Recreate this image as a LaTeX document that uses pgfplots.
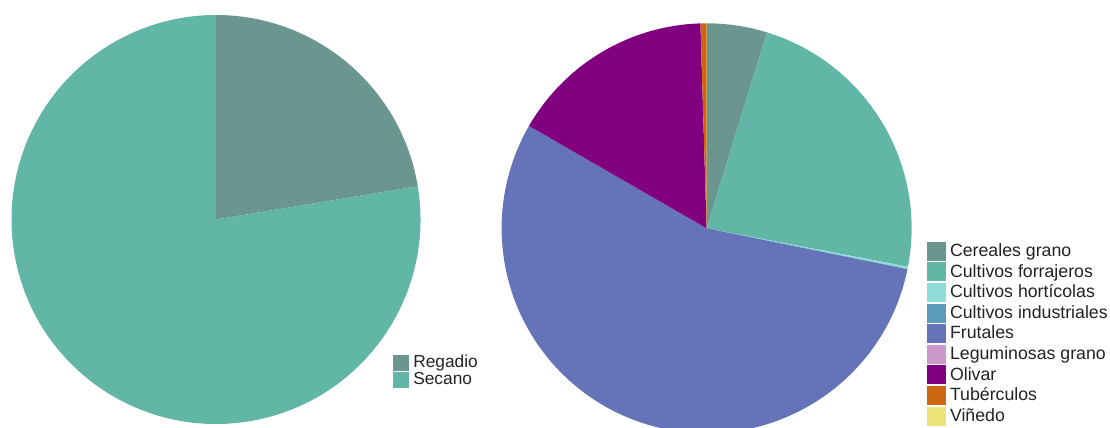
\documentclass[border=0pt]{standalone}
\usepackage{pgfplots}
\pgfplotsset{compat=1.18}
\usepackage{fontspec}
\setmainfont{Liberation Sans}

\definecolor{cereal}{HTML}{6A968F}
\definecolor{forraj}{HTML}{62B6A6}
\definecolor{hortic}{HTML}{8EDCD5}
\definecolor{indust}{HTML}{5B9AB8}
\definecolor{frutal}{HTML}{6574B8}
\definecolor{legum}{HTML}{CC99CC}
\definecolor{olivar}{HTML}{800080}
\definecolor{tuber}{HTML}{CC6611}
\definecolor{vined}{HTML}{EEE27A}
\definecolor{txt}{HTML}{222222}

% one pie slice: value (%), colour, centre x, centre y, radius (all in px)
\newcommand\slcum{0}
\newcommand\slice[5]{%
  \pgfmathsetmacro\slA{90-3.6*\slcum}%
  \pgfmathsetmacro\slB{90-3.6*(\slcum+#1)}%
  \pgfmathsetmacro\slX{#3+#5*cos(\slA)}%
  \pgfmathsetmacro\slY{#4+#5*sin(\slA)}%
  \pgfmathsetmacro\slR{0.75*#5}%
  \edef\sltmp{\noexpand\fill[#2] (axis cs:#3,#4) -- (axis cs:\slX,\slY)
    arc[start angle=\slA, end angle=\slB, radius=\slR pt] -- cycle;}%
  \sltmp
  \pgfmathsetmacro\slnew{\slcum+#1}\xdef\slcum{\slnew}}

\pgfplotsset{
  piebox/.style={
    x=0.75pt, y=0.75pt, xmin=0, xmax=1110, ymin=0, ymax=428,
    hide axis, clip=true, disabledatascaling,
    at={(0,0)}, anchor=south west,
    legend cell align=left,
  },
}

\begin{document}
\begin{tikzpicture}
\useasboundingbox (0,0) rectangle (832.5pt,321pt);
\begin{axis}[piebox,
  legend image code/.code={\fill[#1] (0pt,-6pt) rectangle (12pt,6pt);},
  legend style={at={(0.3543,0.1715)}, anchor=north west, draw=none, fill=none,
    inner sep=0pt, outer sep=0pt, row sep=0pt,
    font=\fontsize{13}{14}\selectfont\color{txt},
    nodes={inner xsep=3pt, inner ysep=0pt, text height=9.6pt, text depth=3pt}},
]
\addlegendimage{fill=cereal, draw=none}
\addlegendentry{Regadio}
\addlegendimage{fill=forraj, draw=none}
\addlegendentry{Secano}
\gdef\slcum{0}
\slice{22.4}{cereal}{216}{208.5}{204.5}
\slice{77.6}{forraj}{216}{208.5}{204.5}
\end{axis}

\begin{axis}[piebox,
  legend image code/.code={\fill[#1] (0pt,-7.15pt) rectangle (14.3pt,7.15pt);},
  legend style={at={(0.8351,0.4369)}, anchor=north west, draw=none, fill=none,
    inner sep=0pt, outer sep=0pt, row sep=0pt,
    font=\fontsize{13.3}{15}\selectfont\color{txt},
    nodes={inner xsep=3pt, inner ysep=0pt, text height=11.6pt, text depth=3.85pt}},
]
\addlegendimage{fill=cereal, draw=none}
\addlegendentry{Cereales grano}
\addlegendimage{fill=forraj, draw=none}
\addlegendentry{Cultivos forrajeros}
\addlegendimage{fill=hortic, draw=none}
\addlegendentry{Cultivos hortícolas}
\addlegendimage{fill=indust, draw=none}
\addlegendentry{Cultivos industriales}
\addlegendimage{fill=frutal, draw=none}
\addlegendentry{Frutales}
\addlegendimage{fill=legum, draw=none}
\addlegendentry{Leguminosas grano}
\addlegendimage{fill=olivar, draw=none}
\addlegendentry{Olivar}
\addlegendimage{fill=tuber, draw=none}
\addlegendentry{Tubérculos}
\addlegendimage{fill=vined, draw=none}
\addlegendentry{Viñedo}
\gdef\slcum{0}
\slice{4.75}{cereal}{706.6}{199.7}{205}
\slice{23.25}{forraj}{706.6}{199.7}{205}
\slice{0.2}{hortic}{706.6}{199.7}{205}
\slice{0.0}{indust}{706.6}{199.7}{205}
\slice{55.12}{frutal}{706.6}{199.7}{205}
\slice{0.0}{legum}{706.6}{199.7}{205}
\slice{16.2}{olivar}{706.6}{199.7}{205}
\slice{0.48}{tuber}{706.6}{199.7}{205}
\slice{0.0}{vined}{706.6}{199.7}{205}
\end{axis}
\end{tikzpicture}
\end{document}
